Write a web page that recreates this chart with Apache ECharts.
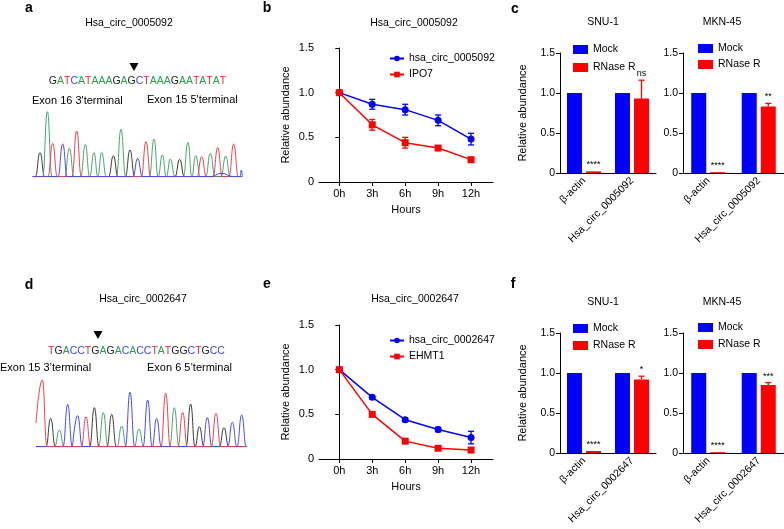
<!DOCTYPE html>
<html>
<head>
<meta charset="utf-8">
<script src="https://cdn.jsdelivr.net/npm/echarts@6/dist/echarts.min.js"></script>
<style>
html, body { margin: 0; padding: 0; background: #fff; }
#main { width: 784px; height: 529px; }
</style>
</head>
<body>
<div id="main"></div>
<script>
// time course (b, e)
var hours = [0, 3, 6, 9, 12];
var circ5092 = [1.0, 0.87, 0.81, 0.69, 0.48];
var circ5092Err = [0, 0.055, 0.06, 0.06, 0.065];
var ipo7 = [1.0, 0.64, 0.44, 0.38, 0.25];
var ipo7Err = [0, 0.06, 0.06, 0.015, 0.015];
var circ2647 = [1.0, 0.69, 0.44, 0.33, 0.24];
var circ2647Err = [0, 0.015, 0.02, 0.025, 0.07];
var ehmt1 = [1.0, 0.50, 0.20, 0.12, 0.10];
var ehmt1Err = [0, 0.015, 0.015, 0.015, 0.015];

// RNase R (c, f)
var genesC = ['β-actin', 'Hsa_circ_0005092'];
var genesF = ['β-actin', 'Hsa_circ_0002647'];
var snuMockC = [1.0, 1.0], snuRnaseC = [0.02, 0.93], snuErrC = [0, 0.23], snuSigC = ['****', 'ns'];
var mknMockC = [1.0, 1.0], mknRnaseC = [0.01, 0.83], mknErrC = [0, 0.04], mknSigC = ['****', '**'];
var snuMockF = [1.0, 1.0], snuRnaseF = [0.025, 0.92], snuErrF = [0, 0.04], snuSigF = ['****', '*'];
var mknMockF = [1.0, 1.0], mknRnaseF = [0.01, 0.85], mknErrF = [0, 0.03], mknSigF = ['****', '***'];

// sequencing traces (a, d): [scan position, peak height(, half width)]
var seqA = 'GATCATAAAGAGCTAAAGAATATAT';
var peaksA = {
  G: [[30, 72], [250, 63], [300, 80], [449, 52]],
  A: [[52, 195], [118, 85], [166, 97], [192, 72], [215, 72], [273, 142], [372, 113], [397, 65], [421, 53], [474, 103], [497, 63], [541, 70], [587, 62]],
  T: [[68, 100], [140, 137], [348, 105], [515, 60], [563, 87], [611, 98]],
  C: [[98, 98], [323, 55], [575, 10, 35], [634, 20, 4]]
};
var seqD = 'TGACCTGAGACACCTATGGCTGCC';
var peaksD = {
  A: [[88, 50], [220, 102], [275, 62], [327, 53], [433, 117]],
  G: [[62, 85], [193, 117], [245, 97], [482, 128], [508, 60], [582, 57]],
  C: [[113, 127], [143, 93], [300, 163], [353, 140], [380, 85], [532, 87], [607, 73], [635, 95]],
  T: [[37, 200], [168, 90], [407, 160], [458, 103], [558, 100]]
};

var FONT = 'Liberation Sans, Arial, sans-serif';
var BLUE = '#0000ff', RED = '#ff0000';
var baseColor = { A: '#2a9d4e', C: '#3a48ee', G: '#222222', T: '#ee2a3a' };
var traceColor = { A: '#45a56e', C: '#4848f0', G: '#3a3a3a', T: '#f0404e' };

var chart = echarts.init(document.getElementById('main'));
var grids = [], xAxes = [], yAxes = [], series = [], legends = [], graphics = [];

function tracePoints(peaks, start, end, lead) {
  var pts = [[start, lead || 0]];
  peaks.forEach(function (p, i) {
    var hw = p[2] || 14;
    var prev = peaks[i - 1], next = peaks[i + 1];
    if (!(i === 0 && lead) && !(prev && p[0] - hw <= prev[0] + (prev[2] || 14))) pts.push([p[0] - hw, 0]);
    pts.push([p[0], p[1]]);
    if (next && p[0] + hw >= next[0] - (next[2] || 14)) pts.push([(p[0] + next[0]) / 2, 0]);
    else pts.push([p[0] + hw, 0]);
  });
  pts.push([end, 0]);
  return pts;
}

function addTrace(left, top, xmax, start, end, peaks, lead) {
  var gi = grids.length;
  grids.push({ left: left, top: top, width: xmax / 3, height: 215 / 3 });
  xAxes.push({ gridIndex: gi, type: 'value', min: 0, max: xmax, show: false });
  yAxes.push({ gridIndex: gi, type: 'value', min: 0, max: 215, show: false });
  Object.keys(peaks).forEach(function (b) {
    series.push({
      type: 'line', xAxisIndex: gi, yAxisIndex: gi, silent: true,
      data: tracePoints(peaks[b], start, end, lead && lead[b]),
      showSymbol: false, smooth: 0.5, smoothMonotone: 'x',
      lineStyle: { color: traceColor[b], width: 1 }
    });
  });
}

function errSeries(gi, xs, vals, errs, color, offset, sig) {
  return {
    type: 'custom', xAxisIndex: gi, yAxisIndex: gi, silent: true, z: 3,
    data: xs.map(function (x, i) { return [x, vals[i], errs[i]]; }),
    renderItem: function (params, api) {
      var x = api.value(0), v = api.value(1), e = api.value(2);
      var hi = api.coord([x, v + e]);
      var lo = sig ? api.coord([x, v]) : api.coord([x, v - e]);
      var cx = hi[0] + (offset || 0);
      var kids = [];
      if (e > 0) {
        kids.push({ type: 'line', shape: { x1: cx, y1: lo[1], x2: cx, y2: hi[1] }, style: { stroke: color, lineWidth: 1.3 } });
        kids.push({ type: 'line', shape: { x1: cx - 3, y1: hi[1], x2: cx + 3, y2: hi[1] }, style: { stroke: color, lineWidth: 1.3 } });
        if (!sig) kids.push({ type: 'line', shape: { x1: cx - 3, y1: lo[1], x2: cx + 3, y2: lo[1] }, style: { stroke: color, lineWidth: 1.3 } });
      }
      if (sig) {
        kids.push({ type: 'text', x: cx, y: hi[1] - 2, style: { text: sig[params.dataIndex], align: 'center', verticalAlign: 'bottom', fontSize: 9, fontFamily: FONT, fill: '#000' } });
      }
      return { type: 'group', children: kids };
    }
  };
}

var axisBlack = { lineStyle: { color: '#000', width: 1 } };

function addLine(left, top, names, vals, errs, legendTop) {
  var gi = grids.length;
  grids.push({ left: left, top: top, width: 174, height: 134 });
  xAxes.push({
    gridIndex: gi, type: 'value', min: -1.85, max: 14,
    axisLine: axisBlack, splitLine: { show: false },
    axisTick: { show: true, length: 4, customValues: hours, lineStyle: { color: '#000' } },
    axisLabel: { customValues: hours, formatter: '{value}h', color: '#000', fontSize: 11, fontFamily: FONT, margin: 6 },
    name: 'Hours', nameLocation: 'middle', nameGap: 22,
    nameTextStyle: { color: '#000', fontSize: 11, fontFamily: FONT }
  });
  yAxes.push({
    gridIndex: gi, type: 'value', min: 0, max: 1.5, interval: 0.5,
    axisLine: { show: true, lineStyle: { color: '#000' } }, splitLine: { show: false },
    axisTick: { show: true, length: 4, lineStyle: { color: '#000' } },
    axisLabel: { formatter: function (v) { return v === 0 ? '0' : v.toFixed(1); }, color: '#000', fontSize: 11, fontFamily: FONT, margin: 5 },
    name: 'Relative abundance', nameLocation: 'middle', nameGap: 28,
    nameTextStyle: { color: '#000', fontSize: 11, fontFamily: FONT }
  });
  var cols = [BLUE, RED], syms = ['circle', 'rect'];
  names.forEach(function (n, k) {
    series.push({
      name: n, type: 'line', xAxisIndex: gi, yAxisIndex: gi,
      data: hours.map(function (h, i) { return [h, vals[k][i]]; }),
      symbol: syms[k], symbolSize: 7, showAllSymbol: true,
      itemStyle: { color: cols[k] }, lineStyle: { color: cols[k], width: 1.5 }, z: 2 + k
    });
    series.push(errSeries(gi, hours, vals[k], errs[k], cols[k]));
  });
  legends.push({
    data: names, left: 389, top: legendTop, orient: 'vertical', padding: 0,
    itemWidth: 14, itemHeight: 7, itemGap: 5,
    textStyle: { color: '#000', fontSize: 10.5, fontFamily: FONT }
  });
}

function addBar(left, top, width, cats, mock, rnase, err, sig, yName, legLeft, legTop, legGap) {
  var gi = grids.length;
  grids.push({ left: left, top: top, width: width, height: 120 });
  xAxes.push({
    gridIndex: gi, type: 'category', data: cats,
    axisLine: axisBlack,
    axisTick: { alignWithLabel: true, length: 4, lineStyle: { color: '#000' } },
    axisLabel: { rotate: 45, interval: 0, color: '#000', fontSize: 10.5, fontFamily: FONT, margin: 6 }
  });
  yAxes.push({
    gridIndex: gi, type: 'value', min: 0, max: 1.5, interval: 0.5,
    axisLine: { show: true, lineStyle: { color: '#000' } }, splitLine: { show: false },
    axisTick: { show: true, length: 4, lineStyle: { color: '#000' } },
    axisLabel: { formatter: function (v) { return v === 0 ? '0' : v.toFixed(1); }, color: '#000', fontSize: 10.5, fontFamily: FONT, margin: 5 },
    name: yName, nameLocation: 'middle', nameGap: 32,
    nameTextStyle: { color: '#000', fontSize: 11, fontFamily: FONT }
  });
  series.push({ name: 'Mock', type: 'bar', xAxisIndex: gi, yAxisIndex: gi, data: mock, barWidth: 15, barGap: '27%', itemStyle: { color: BLUE } });
  series.push({ name: 'RNase R', type: 'bar', xAxisIndex: gi, yAxisIndex: gi, data: rnase, barWidth: 15, barGap: '27%', itemStyle: { color: RED } });
  series.push(errSeries(gi, cats.map(function (c, i) { return i; }), rnase, err, RED, 9.5, sig));
  legends.push({
    data: ['Mock', 'RNase R'], left: legLeft, top: legTop, orient: 'vertical', padding: 0,
    itemWidth: 15, itemHeight: 9, itemGap: legGap, icon: 'rect',
    textStyle: { color: '#000', fontSize: 10.5, fontFamily: FONT }
  });
}

addTrace(30, 105, 645, 8, 636, peaksA);
addLine(319, 48, ['hsa_circ_0005092', 'IPO7'], [circ5092, ipo7], [circ5092Err, ipo7Err], 53);
addBar(560, 53, 96, genesC, snuMockC, snuRnaseC, snuErrC, snuSigC, 'Relative abundance', 573, 44, 7);
addBar(683, 53, 101, genesC, mknMockC, mknRnaseC, mknErrC, mknSigC, '', 698, 43, 5);
addTrace(30, 375, 660, 18, 650, peaksD, { T: 70 });
addLine(319, 325, ['hsa_circ_0002647', 'EHMT1'], [circ2647, ehmt1], [circ2647Err, ehmt1Err], 335);
addBar(560, 333, 96, genesF, snuMockF, snuRnaseF, snuErrF, snuSigF, 'Relative abundance', 573, 323, 6);
addBar(683, 333, 101, genesF, mknMockF, mknRnaseF, mknErrF, mknSigF, '', 698, 322, 6);

function txt(s, x, y, size, align, weight) {
  graphics.push({ type: 'text', x: x, y: y, silent: true,
    style: { text: s, align: align || 'center', verticalAlign: 'middle', fontSize: size, fontWeight: weight || 'normal', fontFamily: FONT, fill: '#000' } });
}
function seqText(seq, x, y) {
  var rich = {};
  Object.keys(baseColor).forEach(function (b) { rich[b] = { fill: baseColor[b], fontSize: 10.5, fontFamily: FONT }; });
  graphics.push({ type: 'text', x: x, y: y, silent: true,
    style: { text: seq.split('').map(function (b) { return '{' + b + '|' + b + '}'; }).join(''), rich: rich, align: 'center', verticalAlign: 'middle', fontSize: 10.5, fontFamily: FONT } });
}
function arrow(x, y) {
  graphics.push({ type: 'polygon', silent: true, shape: { points: [[x - 4.5, y - 4], [x + 4.5, y - 4], [x, y + 4]] }, style: { fill: '#000' } });
}

txt('a', 29, 8, 14, 'center', 'bold');
txt('b', 267, 8, 14, 'center', 'bold');
txt('c', 515, 9, 14, 'center', 'bold');
txt('d', 29, 285, 14, 'center', 'bold');
txt('e', 267, 284, 14, 'center', 'bold');
txt('f', 513, 284, 14, 'center', 'bold');

txt('Hsa_circ_0005092', 129, 23, 10.5);
arrow(134, 67);
seqText(seqA, 137.5, 81);
txt("Exon 16 3'terminal", 32, 101, 11, 'left');
txt("Exon 15 5'terminal", 147, 100, 11, 'left');

txt('Hsa_circ_0002647', 143, 299, 10.5);
arrow(98, 335);
seqText(seqD, 136.5, 351);
txt('Exon 15 3’terminal', 0, 368, 11, 'left');
txt('Exon 6 5’terminal', 147, 368, 11, 'left');

txt('Hsa_circ_0005092', 414, 23, 10.5);
txt('Hsa_circ_0002647', 415, 299, 10.5);
txt('SNU-1', 603, 22, 10.5);
txt('MKN-45', 722, 22, 10.5);
txt('SNU-1', 603, 302, 10.5);
txt('MKN-45', 722, 302, 10.5);

chart.setOption({
  backgroundColor: '#fff',
  animation: false,
  grid: grids,
  xAxis: xAxes,
  yAxis: yAxes,
  legend: legends,
  series: series,
  graphic: graphics
});
</script>
</body>
</html>
